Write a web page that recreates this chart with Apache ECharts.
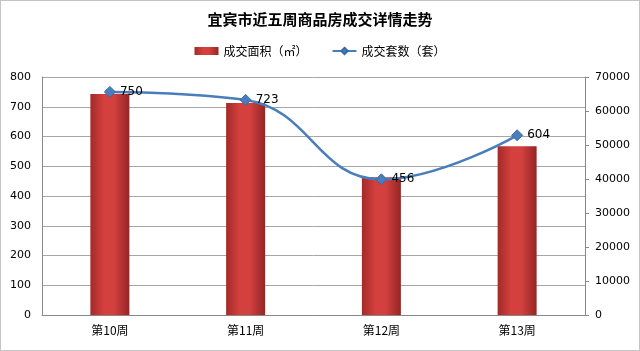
<!DOCTYPE html>
<html>
<head>
<meta charset="utf-8">
<script src="https://cdn.jsdelivr.net/npm/echarts@6/dist/echarts.min.js"></script>
<style>
  html, body { margin: 0; padding: 0; background: #fff; }
  #main { width: 640px; height: 351px; box-sizing: border-box; border: 1px solid #c4c4c4; }
</style>
</head>
<body>
<div id="main"></div>
<script>
// categories and values
const weeks = ['第10周', '第11周', '第12周', '第13周'];
const areaValues = [743, 713, 463, 567];   // 成交面积 bars
const setValues = [750, 723, 456, 604];    // 成交套数 line (labels)
const leftTicks = { min: 0, max: 800, interval: 100 };
const rightTicks = { min: 0, max: 70000, interval: 10000 };

const chart = echarts.init(document.getElementById('main'));

const numFont = 'DejaVu Sans, Verdana, sans-serif';
const cjkFont = '"Noto Sans CJK SC", sans-serif';

const option = {
    animation: false,
    title: {
        text: '宜宾市近五周商品房成交详情走势',
        left: 'center',
        top: 6,
        textStyle: { fontFamily: cjkFont, fontSize: 15, fontWeight: 'bold', color: '#000' }
    },
    legend: {
        top: 39,
        left: 'center',
        itemGap: 24,
        itemWidth: 24,
        itemHeight: 8,
        textStyle: { fontFamily: cjkFont, fontSize: 12, color: '#000' },
        data: [
            { name: '成交面积（㎡）', icon: 'rect' },
            { name: '成交套数（套）' }
        ]
    },
    grid: { left: 41, right: 54, top: 76, bottom: 35 },
    xAxis: {
        type: 'category',
        data: weeks,
        axisLine: { lineStyle: { color: '#888', width: 1 } },
        axisTick: { show: false },
        axisLabel: { fontFamily: cjkFont, fontSize: 12, color: '#000', margin: 9 }
    },
    yAxis: [{
        type: 'value',
        min: leftTicks.min,
        max: leftTicks.max,
        interval: leftTicks.interval,
        axisLine: { show: true, lineStyle: { color: '#888' } },
        axisTick: { show: false },
        axisLabel: { fontFamily: numFont, fontSize: 11, color: '#000', margin: 11 },
        splitLine: { lineStyle: { color: '#a6a6a6' } }
    }, {
        type: 'value',
        min: rightTicks.min,
        max: rightTicks.max,
        interval: rightTicks.interval,
        position: 'right',
        axisLine: { show: true, lineStyle: { color: '#888' } },
        axisTick: { show: true, length: 4, lineStyle: { color: '#888' } },
        axisLabel: {
            fontFamily: numFont, fontSize: 11, color: '#000', margin: 10,
            formatter: function (v) { return String(v); }
        },
        splitLine: { show: false }
    }],
    series: [{
        name: '成交面积（㎡）',
        type: 'bar',
        yAxisIndex: 0,
        barWidth: 39,
        data: areaValues,
        itemStyle: {
            color: new echarts.graphic.LinearGradient(0, 0, 1, 0, [
                { offset: 0, color: '#a32a2a' },
                { offset: 0.35, color: '#d4403e' },
                { offset: 0.6, color: '#d3413f' },
                { offset: 1, color: '#962525' }
            ])
        }
    }, {
        name: '成交套数（套）',
        type: 'line',
        yAxisIndex: 0,
        smooth: 0.45,
        data: setValues,
        symbol: 'diamond',
        symbolSize: 11,
        lineStyle: { color: '#4a7ebb', width: 2.5 },
        itemStyle: { color: '#4a7ebb', borderColor: '#3a6aa5', borderWidth: 1 },
        label: {
            show: true,
            position: 'right',
            distance: 4,
            fontFamily: numFont,
            fontSize: 12,
            color: '#000'
        }
    }]
};

chart.setOption(option);
</script>
</body>
</html>
